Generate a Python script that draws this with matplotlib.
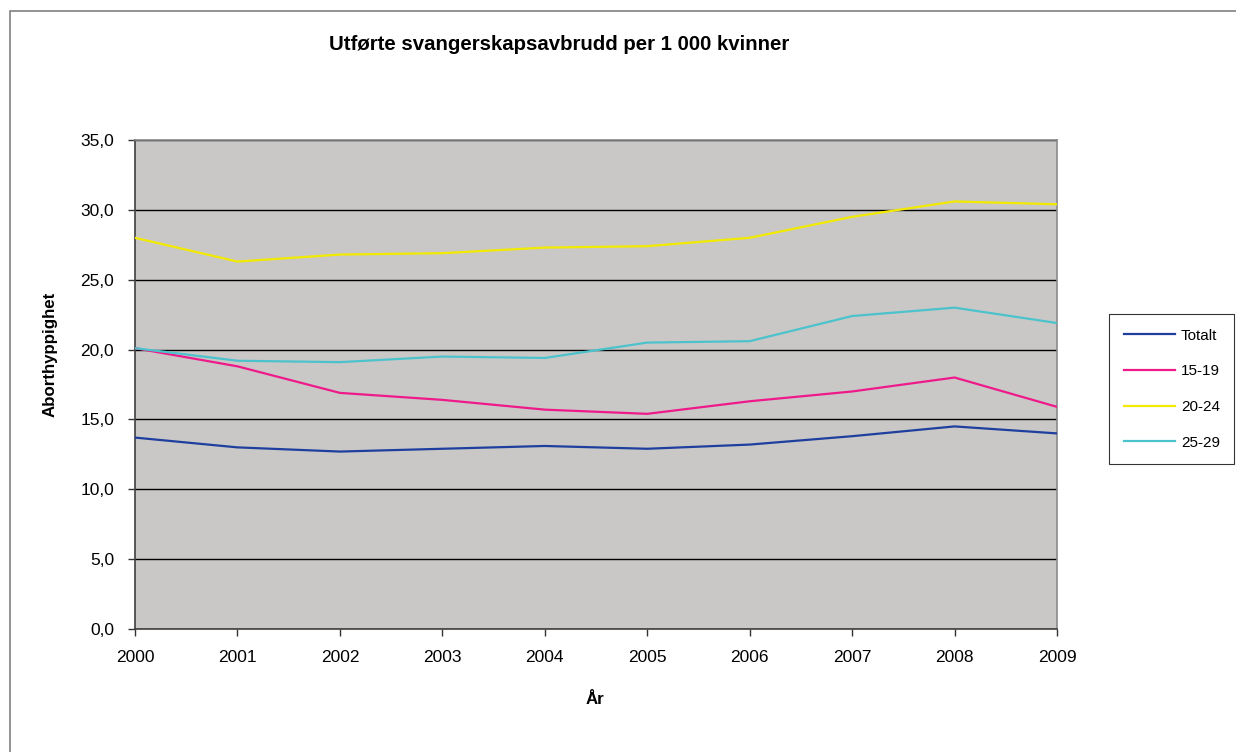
import matplotlib.pyplot as plt
from matplotlib.patches import Rectangle
from matplotlib.ticker import FuncFormatter, MultipleLocator

plt.rcParams["font.family"] = ["Liberation Sans", "DejaVu Sans"]

years = [2000, 2001, 2002, 2003, 2004, 2005, 2006, 2007, 2008, 2009]
totalt = [13.7, 13.0, 12.7, 12.9, 13.1, 12.9, 13.2, 13.8, 14.5, 14.0]
age_15_19 = [20.1, 18.8, 16.9, 16.4, 15.7, 15.4, 16.3, 17.0, 18.0, 15.9]
age_20_24 = [28.0, 26.3, 26.8, 26.9, 27.3, 27.4, 28.0, 29.5, 30.6, 30.4]
age_25_29 = [20.1, 19.2, 19.1, 19.5, 19.4, 20.5, 20.6, 22.4, 23.0, 21.9]

series = [
    ("Totalt", totalt, "#1f3f9f"),
    ("15-19", age_15_19, "#ee1a8a"),
    ("20-24", age_20_24, "#f2ea00"),
    ("25-29", age_25_29, "#4cc3cc"),
]

W, H = 1236, 752
fig = plt.figure(figsize=(W / 100, H / 100), dpi=100)

# outer chart frame (only left/top edges visible in original)
fig.add_artist(Rectangle((10 / W, -0.1), 1.2, 1 - 11 / H + 0.1,
                         transform=fig.transFigure, fill=False,
                         edgecolor="#808080", linewidth=1.2))

ax = fig.add_axes([135 / W, 1 - 629 / H, (1057 - 135) / W, (629 - 140) / H])
ax.set_facecolor("#c9c8c6")

x = list(range(len(years)))
for label, vals, color in series:
    ax.plot(x, vals, color=color, linewidth=1.6, label=label, zorder=3)

ax.set_xlim(0, len(years) - 1)
ax.set_ylim(0, 35)
ax.set_xticks(x)
ax.set_xticklabels([str(y) for y in years])
ax.yaxis.set_major_locator(MultipleLocator(5))
ax.yaxis.set_major_formatter(FuncFormatter(lambda v, p: f"{v:.1f}".replace(".", ",")))
ax.grid(axis="y", color="black", linewidth=1.0, zorder=1)
ax.set_axisbelow(True)

ax.tick_params(axis="both", direction="out", length=5, width=1, color="#333333",
               labelsize=12.5)
ax.tick_params(axis="y", pad=10)
ax.tick_params(axis="x", pad=10)

for side in ["left", "bottom"]:
    ax.spines[side].set_color("#404040")
    ax.spines[side].set_linewidth(1.2)
for side in ["top", "right"]:
    ax.spines[side].set_color("#8a8a8a")
    ax.spines[side].set_linewidth(1.2)

fig.text(559 / W, 1 - 45 / H, "Utførte svangerskapsavbrudd per 1 000 kvinner",
         ha="center", va="center", fontsize=14.7, fontweight="bold")
fig.text(50 / W, 1 - 354 / H, "Aborthyppighet", rotation=90,
         ha="center", va="center", fontsize=12.2, fontweight="bold")
fig.text(595 / W, 1 - 700 / H, "År", ha="center", va="center",
         fontsize=12.2, fontweight="bold")

leg = fig.legend(loc="upper left", bbox_to_anchor=(1109 / W, 1 - 314 / H),
                 fontsize=11, frameon=True, fancybox=False, edgecolor="black",
                 borderpad=0.95, labelspacing=1.42, handlelength=3.4,
                 handletextpad=0.35, borderaxespad=0)
leg.get_frame().set_linewidth(0.8)

fig.savefig("out.png", dpi=100, facecolor="white")
